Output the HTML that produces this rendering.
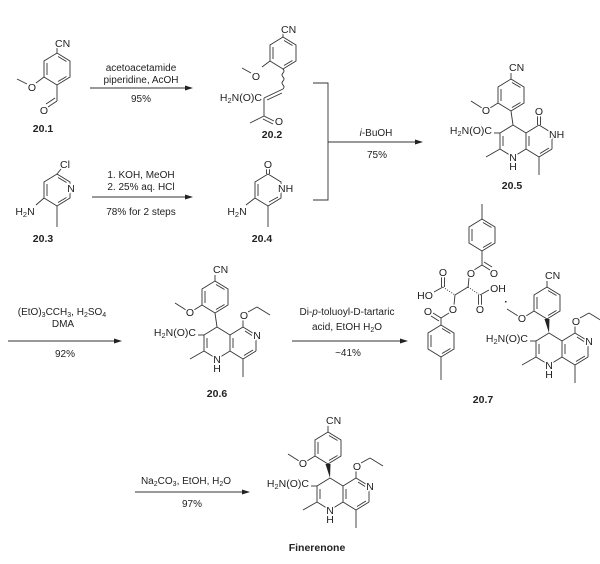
<!DOCTYPE html>
<html><head><meta charset="utf-8"><style>
html,body{margin:0;padding:0;background:#fff}
svg{display:block}
text{font-family:"Liberation Sans",Arial,sans-serif;fill:#222;font-size:10px}
.a{font-size:10.5px;paint-order:stroke;stroke:#fff;stroke-width:3px;stroke-linejoin:round}
.l{font-weight:bold;font-size:10.5px}
line,polyline,path,polygon.r{stroke:#333;stroke-width:0.9;fill:none}
</style></head><body>
<svg width="600" height="564" viewBox="0 0 600 564" xmlns="http://www.w3.org/2000/svg">
<defs>
<g id="hex">
<polygon class="r" points="0,-16 13,-8 13,8 0,16 -13,8 -13,-8"/>
<line x1="-10" y1="-6" x2="-10" y2="6"/>
<line x1="1" y1="-12.5" x2="9.5" y2="-7.5"/>
<line x1="9.5" y1="7.5" x2="1" y2="12.5"/>
</g>
<g id="core">
<line x1="0" y1="0" x2="-13" y2="8"/><line x1="-13" y1="8" x2="-13" y2="24"/>
<line x1="-13" y1="24" x2="0" y2="32"/><line x1="0" y1="32" x2="13" y2="24"/>
<line x1="13" y1="24" x2="13" y2="8"/><line x1="13" y1="8" x2="0" y2="0"/>
<line x1="13" y1="8" x2="26" y2="0"/>
<line x1="39" y1="8" x2="39" y2="24"/><line x1="39" y1="24" x2="26" y2="32"/>
<line x1="26" y1="32" x2="13" y2="24"/>
<line x1="-10" y1="11" x2="-10" y2="21"/>
<line x1="16" y1="11" x2="16" y2="21"/>
<line x1="36" y1="23" x2="27" y2="28.5"/>
<line x1="-13" y1="24" x2="-27" y2="32"/>
<line x1="26" y1="32" x2="26" y2="50"/>
<line x1="-19" y1="8" x2="-13" y2="8"/>
<use href="#hex" x="-2" y="-30"/>
<line x1="-2" y1="-46" x2="-2" y2="-52"/>
<line x1="-15" y1="-22" x2="-23" y2="-17"/>
<line x1="-31" y1="-17" x2="-42" y2="-24"/>
</g>
<g id="fullcore">
<use href="#core"/>
<line x1="26" y1="0" x2="39" y2="8"/>
<line x1="28" y1="4" x2="35" y2="8.5"/>
<line x1="26" y1="0" x2="26" y2="-7"/>
<line x1="31" y1="-15" x2="40" y2="-20"/><line x1="40" y1="-20" x2="53" y2="-12"/>
</g>
</defs>

<!-- 20.1 -->
<use href="#hex" x="57" y="69"/>
<line x1="57" y1="53" x2="57" y2="48"/>
<text class="a" x="55" y="47">CN</text>
<line x1="44" y1="77" x2="36" y2="83"/>
<line x1="27" y1="84" x2="17" y2="79"/>
<text class="a" x="32" y="91" text-anchor="middle">O</text>
<line x1="57" y1="85" x2="57" y2="101"/>
<line x1="57" y1="101" x2="48" y2="107"/><line x1="55" y1="98" x2="46" y2="104"/>
<text class="a" x="44" y="114" text-anchor="middle">O</text>
<text class="l" x="43" y="132" text-anchor="middle">20.1</text>

<!-- arrow 1 -->
<line x1="90" y1="88" x2="188" y2="88"/><polygon points="193,88 185,85.5 185,90.5" fill="#222"/>
<text x="141" y="71" text-anchor="middle">acetoacetamide</text>
<text x="141" y="83" text-anchor="middle">piperidine, AcOH</text>
<text x="141" y="102" text-anchor="middle">95%</text>

<!-- 20.2 -->
<use href="#hex" x="283" y="53"/>
<line x1="283" y1="37" x2="283" y2="33"/>
<text class="a" x="281" y="33">CN</text>
<line x1="270" y1="61" x2="262" y2="67"/>
<text class="a" x="256" y="80" text-anchor="middle">O</text>
<line x1="251" y1="73" x2="242" y2="68"/>
<path d="M283,69 q2,2 0,4 q-2,2 0,4 q2,2 0,4 q-2,2 0,4 q2,2 0,4"/>
<line x1="283" y1="89" x2="264" y2="98"/><line x1="282" y1="93" x2="267" y2="100"/>
<text class="a" x="262" y="101" text-anchor="end">H<tspan font-size="7.5" dy="2">2</tspan><tspan dy="-2">N(O)C</tspan></text>
<line x1="264" y1="98" x2="264" y2="116"/>
<line x1="264" y1="116" x2="250" y2="123"/>
<line x1="264" y1="116" x2="274" y2="121"/><line x1="263" y1="119" x2="273" y2="124"/>
<text class="a" x="279" y="125" text-anchor="middle">O</text>
<text class="l" x="272" y="138" text-anchor="middle">20.2</text>

<!-- 20.3 -->
<use href="#hex" x="57" y="190"/>
<line x1="57" y1="174" x2="61" y2="169"/>
<text class="a" x="65" y="168" text-anchor="middle">Cl</text>
<text class="a" x="71" y="192" text-anchor="middle">N</text>
<line x1="44" y1="198" x2="36" y2="205"/>
<text class="a" x="25" y="215" text-anchor="middle">H<tspan font-size="7.5" dy="2">2</tspan><tspan dy="-2">N</tspan></text>
<line x1="57" y1="206" x2="57" y2="227"/>
<text class="l" x="43" y="242" text-anchor="middle">20.3</text>

<!-- arrow 2 -->
<line x1="92" y1="197" x2="188" y2="197"/><polygon points="193,197 185,194.5 185,199.5" fill="#222"/>
<text x="141" y="178" text-anchor="middle">1. KOH, MeOH</text>
<text x="141" y="190" text-anchor="middle">2. 25% aq. HCl</text>
<text x="141" y="215" text-anchor="middle">78% for 2 steps</text>

<!-- 20.4 -->
<polygon class="r" points="268,174 281,182 281,198 268,206 255,198 255,182"/>
<line x1="258" y1="184" x2="258" y2="196"/>
<line x1="278" y1="197" x2="269" y2="202"/>
<line x1="266.5" y1="174" x2="266.5" y2="169"/><line x1="269.5" y1="174" x2="269.5" y2="169"/>
<text class="a" x="268" y="168" text-anchor="middle">O</text>
<text class="a" x="278" y="192">NH</text>
<line x1="255" y1="198" x2="246" y2="205"/>
<text class="a" x="237" y="215" text-anchor="middle">H<tspan font-size="7.5" dy="2">2</tspan><tspan dy="-2">N</tspan></text>
<line x1="268" y1="206" x2="268" y2="227"/>
<text class="l" x="262" y="242" text-anchor="middle">20.4</text>

<!-- bracket + arrow -->
<polyline points="313,83 328,83 328,200 313,200"/>
<line x1="328" y1="142" x2="418" y2="142"/><polygon points="423,142 415,139.5 415,144.5" fill="#222"/>
<text x="376" y="136" text-anchor="middle"><tspan font-style="italic">i</tspan>-BuOH</text>
<text x="377" y="158" text-anchor="middle">75%</text>

<!-- 20.5 -->
<g transform="translate(513,125)">
<use href="#core"/>
<line x1="26" y1="0" x2="39" y2="8"/>
<line x1="24.5" y1="0" x2="24.5" y2="-9"/><line x1="27.5" y1="0" x2="27.5" y2="-9"/>
<text class="a" x="26" y="-10" text-anchor="middle">O</text>
<text class="a" x="36" y="13">NH</text>
<text class="a" x="-4" y="-54">CN</text>
<text class="a" x="-27" y="-11" text-anchor="middle">O</text>
<text class="a" x="-21" y="9" text-anchor="end">H<tspan font-size="7.5" dy="2">2</tspan><tspan dy="-2">N(O)C</tspan></text>
<text class="a" x="0" y="36" text-anchor="middle">N</text>
<text class="a" x="0" y="45" text-anchor="middle">H</text>
<line x1="0" y1="0" x2="-2" y2="-14"/>
</g>
<text class="l" x="512" y="189" text-anchor="middle">20.5</text>

<!-- arrow 3 -->
<line x1="8" y1="341" x2="117" y2="341"/><polygon points="122,341 114,338.5 114,343.5" fill="#222"/>
<text x="62" y="315" text-anchor="middle">(EtO)<tspan font-size="7" dy="2">3</tspan><tspan dy="-2">CCH</tspan><tspan font-size="7" dy="2">3</tspan><tspan dy="-2">, H</tspan><tspan font-size="7" dy="2">2</tspan><tspan dy="-2">SO</tspan><tspan font-size="7" dy="2">4</tspan></text>
<text x="63" y="327" text-anchor="middle">DMA</text>
<text x="65" y="357" text-anchor="middle">92%</text>

<!-- 20.6 -->
<g transform="translate(217,327)">
<use href="#fullcore"/>
<line x1="0" y1="0" x2="-2" y2="-14"/>
<text class="a" x="27" y="-8" text-anchor="middle">O</text>
<text class="a" x="40" y="12" text-anchor="middle">N</text>
<text class="a" x="-4" y="-54">CN</text>
<text class="a" x="-27" y="-11" text-anchor="middle">O</text>
<text class="a" x="-21" y="9" text-anchor="end">H<tspan font-size="7.5" dy="2">2</tspan><tspan dy="-2">N(O)C</tspan></text>
<text class="a" x="0" y="36" text-anchor="middle">N</text>
<text class="a" x="0" y="45" text-anchor="middle">H</text>
</g>
<text class="l" x="217" y="397" text-anchor="middle">20.6</text>

<!-- arrow 4 -->
<line x1="292" y1="341" x2="403" y2="341"/><polygon points="408,341 400,338.5 400,343.5" fill="#222"/>
<text x="347" y="315" text-anchor="middle">Di-<tspan font-style="italic">p</tspan>-toluoyl-D-tartaric</text>
<text x="347" y="330" text-anchor="middle">acid, EtOH H<tspan font-size="7" dy="2">2</tspan><tspan dy="-2">O</tspan></text>
<text x="348" y="356" text-anchor="middle">~41%</text>

<!-- 20.7 tartrate -->
<use href="#hex" x="482" y="235"/>
<line x1="482" y1="219" x2="482" y2="204"/>
<line x1="482" y1="251" x2="482" y2="265"/>
<line x1="482" y1="265" x2="474" y2="270"/>
<line x1="482" y1="265" x2="490" y2="270"/><line x1="484" y1="262" x2="492" y2="267"/>
<text class="a" x="494" y="277" text-anchor="middle">O</text>
<text class="a" x="471" y="277" text-anchor="middle">O</text>
<line x1="469" y1="278" x2="468" y2="288"/>
<line x1="441.5" y1="287" x2="441.5" y2="277"/><line x1="444.5" y1="287" x2="444.5" y2="277"/>
<text class="a" x="443" y="276" text-anchor="middle">O</text>
<line x1="443" y1="287" x2="434" y2="292"/>
<text class="a" x="425" y="299" text-anchor="middle">HO</text>
<line x1="443" y1="287" x2="455" y2="295" stroke-dasharray="1,1.5" stroke-width="2"/>
<line x1="455" y1="295" x2="468" y2="287"/>
<line x1="468" y1="287" x2="480" y2="295" stroke-dasharray="1,1.5" stroke-width="2"/>
<line x1="480" y1="295" x2="489" y2="290"/>
<text class="a" x="498" y="292" text-anchor="middle">OH</text>
<line x1="478.5" y1="295" x2="478.5" y2="305"/><line x1="481.5" y1="295" x2="481.5" y2="305"/>
<text class="a" x="480" y="313" text-anchor="middle">O</text>
<line x1="455" y1="295" x2="454" y2="305"/>
<text class="a" x="453" y="313" text-anchor="middle">O</text>
<line x1="449" y1="313" x2="441" y2="318"/>
<line x1="441" y1="318" x2="433" y2="313"/><line x1="439" y1="321" x2="431" y2="316"/>
<text class="a" x="428" y="315" text-anchor="middle">O</text>
<line x1="441" y1="318" x2="441" y2="325"/>
<use href="#hex" x="441" y="341"/>
<line x1="441" y1="357" x2="441" y2="380"/>
<text x="506" y="305" text-anchor="middle" font-size="12" font-weight="bold">·</text>

<!-- 20.7 core -->
<g transform="translate(549,333)">
<use href="#fullcore"/>
<polygon points="0,0 -4.5,-14 0.5,-14" fill="#222"/>
<text class="a" x="27" y="-8" text-anchor="middle">O</text>
<text class="a" x="40" y="12" text-anchor="middle">N</text>
<text class="a" x="-4" y="-54">CN</text>
<text class="a" x="-27" y="-11" text-anchor="middle">O</text>
<text class="a" x="-21" y="9" text-anchor="end">H<tspan font-size="7.5" dy="2">2</tspan><tspan dy="-2">N(O)C</tspan></text>
<text class="a" x="0" y="36" text-anchor="middle">N</text>
<text class="a" x="0" y="45" text-anchor="middle">H</text>
</g>
<text class="l" x="483" y="403" text-anchor="middle">20.7</text>

<!-- arrow 5 -->
<line x1="135" y1="492" x2="245" y2="492"/><polygon points="250,492 242,489.5 242,494.5" fill="#222"/>
<text x="186" y="484" text-anchor="middle">Na<tspan font-size="7" dy="2">2</tspan><tspan dy="-2">CO</tspan><tspan font-size="7" dy="2">3</tspan><tspan dy="-2">, EtOH, H</tspan><tspan font-size="7" dy="2">2</tspan><tspan dy="-2">O</tspan></text>
<text x="192" y="507" text-anchor="middle">97%</text>

<!-- Finerenone -->
<g transform="translate(330,478)">
<use href="#fullcore"/>
<polygon points="0,0 -4.5,-14 0.5,-14" fill="#222"/>
<text class="a" x="27" y="-8" text-anchor="middle">O</text>
<text class="a" x="40" y="12" text-anchor="middle">N</text>
<text class="a" x="-4" y="-54">CN</text>
<text class="a" x="-27" y="-11" text-anchor="middle">O</text>
<text class="a" x="-21" y="9" text-anchor="end">H<tspan font-size="7.5" dy="2">2</tspan><tspan dy="-2">N(O)C</tspan></text>
<text class="a" x="0" y="36" text-anchor="middle">N</text>
<text class="a" x="0" y="45" text-anchor="middle">H</text>
</g>
<text class="l" x="317" y="551" text-anchor="middle">Finerenone</text>
</svg>
</body></html>
